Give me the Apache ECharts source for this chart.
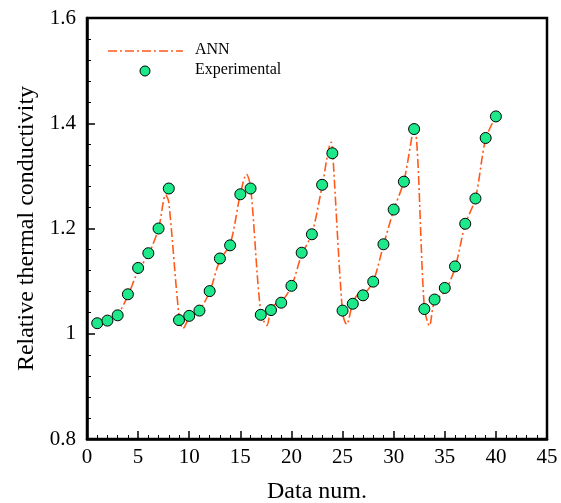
<!DOCTYPE html>
<html>
<head>
<meta charset="utf-8">
<script src="https://cdn.jsdelivr.net/npm/echarts@6/dist/echarts.min.js"></script>
<style>html,body{margin:0;padding:0;background:#fff;}#c{width:561px;height:503px;}</style>
</head>
<body>
<div id="c"></div>
<script>
// Experimental data (x = 1..40)
const expX = [1,2,3,4,5,6,7,8,9,10,11,12,13,14,15,16,17,18,19,20,21,22,23,24,25,26,27,28,29,30,31,32,33,34,35,36,37,38,39,40];
const expY = [1.020,1.025,1.035,1.075,1.125,1.153,1.200,1.276,1.026,1.034,1.044,1.081,1.143,1.168,1.265,1.276,1.036,1.045,1.059,1.091,1.154,1.189,1.283,1.343,1.044,1.057,1.073,1.099,1.170,1.236,1.289,1.389,1.047,1.065,1.087,1.128,1.209,1.257,1.372,1.413];
// ANN curve samples
const annX = [1,2,3,4,5,6,7,7.7,8,9,9.4,10,11,12,13,14,15,15.6,16,17,17.6,18,18.5,19,20,21,22,23,23.9,24,25,25.4,26,26.5,27,28,29,30,31,32,33,33.5,34,35,36,37,38,39,40];
const annY = [1.019,1.025,1.037,1.072,1.120,1.150,1.200,1.264,1.250,1.035,1.010,1.030,1.045,1.080,1.140,1.170,1.265,1.303,1.280,1.040,1.016,1.048,1.057,1.060,1.090,1.150,1.190,1.280,1.364,1.355,1.040,1.018,1.058,1.074,1.075,1.100,1.168,1.235,1.290,1.392,1.050,1.015,1.062,1.080,1.125,1.208,1.257,1.370,1.413];
const xTicks = {min:0, max:45, interval:5};
const yTicks = {min:0.8, max:1.6, interval:0.2};

const chart = echarts.init(document.getElementById('c'), null, {renderer:'canvas'});
const font = 'Liberation Serif';
chart.setOption({
  animation:false,
  backgroundColor:'#fff',
  grid:{left:87, right:14, top:18, bottom:64, containLabel:false, outerBoundsMode:'none',
        show:true, borderColor:'#000', borderWidth:2.5, backgroundColor:'transparent'},
  xAxis:{
    type:'value', min:xTicks.min, max:xTicks.max, interval:xTicks.interval,
    name:'Data num.', nameLocation:'middle', nameGap:41,
    nameTextStyle:{fontFamily:font, fontSize:24, color:'#000'},
    axisLine:{lineStyle:{color:'#000', width:2.5}},
    axisTick:{inside:true, length:8, lineStyle:{color:'#000', width:1.5}},
    minorTick:{show:true, splitNumber:5, length:4, lineStyle:{color:'#000', width:1}},
    axisLabel:{fontFamily:font, fontSize:21, color:'#000', margin:8},
    splitLine:{show:false}
  },
  yAxis:{
    type:'value', min:yTicks.min, max:yTicks.max, interval:yTicks.interval,
    name:'Relative thermal conductivity', nameLocation:'middle', nameGap:46,
    nameTextStyle:{fontFamily:font, fontSize:24, color:'#000'},
    axisLine:{lineStyle:{color:'#000', width:2.5}},
    axisTick:{inside:true, length:8, lineStyle:{color:'#000', width:1.5}},
    minorTick:{show:true, splitNumber:5, length:4, lineStyle:{color:'#000', width:1}},
    axisLabel:{fontFamily:font, fontSize:21, color:'#000', margin:11,
      formatter:v=>(+v.toFixed(1)).toString()},
    splitLine:{show:false}
  },
  graphic:[
    {type:'line', shape:{x1:108,y1:51,x2:183,y2:51}, style:{stroke:'#ff5a1a', lineWidth:1.6, lineDash:[9,3,2,3]}},
    {type:'text', left:195, top:42, style:{text:'ANN', font:'16px "Liberation Serif"', fill:'#000'}},
    {type:'circle', shape:{cx:145, cy:71, r:5}, style:{fill:'#1de98b', stroke:'#000', lineWidth:1}},
    {type:'text', left:195, top:62, style:{text:'Experimental', font:'16px "Liberation Serif"', fill:'#000'}}
  ],
  series:[
    {name:'ANN', type:'line', data:annX.map((x,i)=>[x,annY[i]]), smooth:0.3, showSymbol:false, symbol:'none',
     lineStyle:{color:'#ff5a1a', width:1.6, type:[9,3,2,3]}, z:2},
    {name:'Experimental', type:'scatter', data:expX.map((x,i)=>[x,expY[i]]), symbol:'circle', symbolSize:11,
     itemStyle:{color:'#1de98b', borderColor:'#000', borderWidth:1, opacity:1}, z:3}
  ]
});
</script>
</body>
</html>
